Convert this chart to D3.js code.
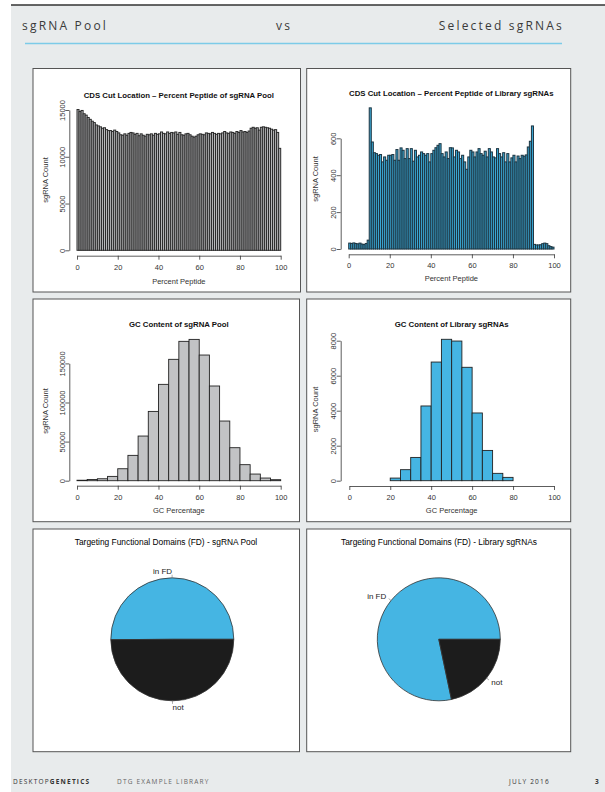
<!DOCTYPE html>
<html>
<head>
<meta charset="utf-8">
<script src="https://d3js.org/d3.v7.min.js"></script>
<style>
  body { margin: 0; background: #fff; }
</style>
</head>
<body>
<div id="page"></div>
<script>
// ---- data ----
const xTicks = [0, 20, 40, 60, 80, 100];

// CDS cut location, 1% bins (0..99)
const poolCutCounts = [
  15050, 14850, 14950, 14600, 14450, 14200, 14000, 13800, 13650, 13400,
  13300, 13200, 13050, 13100, 12900, 12800, 12800, 12700, 12850, 12700,
  12550, 12350, 12300, 12450, 12300, 12500, 12600, 12550, 12400, 12500,
  12250, 12450, 12300, 12200, 12400, 12350, 12450, 12300, 12500, 12400,
  12450, 12650, 12500, 12450, 12650, 12500, 12600, 12550, 12650, 12400,
  12600, 12350, 12300, 12450, 12500, 12350, 12200, 12100, 12200, 12350,
  12450, 12400, 12350, 12550, 12500, 12450, 12600, 12500, 12400, 12500,
  12450, 12550, 12700, 12550, 12500, 12650, 12600, 12500, 12700, 12600,
  12800, 12650, 12700, 12600, 12750, 13050, 13150, 13050, 13100, 12850,
  13150, 13200, 13150, 13100, 13050, 12950, 12850, 12900, 12600, 10900
];
const libCutCounts = [
  32, 30, 33, 30, 28, 32, 27, 24, 30, 48,
  765, 580, 522, 517, 508, 512, 472, 499, 481, 508,
  508, 512, 481, 539, 481, 548, 535, 490, 544, 490,
  544, 476, 535, 499, 508, 526, 517, 508, 517, 472,
  517, 535, 549, 562, 571, 517, 499, 526, 490, 549,
  548, 499, 535, 526, 490, 508, 472, 432, 499, 535,
  526, 499, 526, 544, 517, 508, 530, 499, 544, 526,
  499, 494, 544, 517, 499, 522, 472, 517, 472, 494,
  508, 472, 504, 490, 508, 503, 510, 553, 584, 667,
  25, 22, 22, 23, 29, 32, 29, 18, 13, 10
];
const cutTicksPool = [0, 5000, 10000, 15000];
const cutTicksLib = [0, 200, 400, 600];

// GC content, 5% bins
const poolGcStarts = [0, 5, 10, 15, 20, 25, 30, 35, 40, 45, 50, 55, 60, 65, 70, 75, 80, 85, 90, 95];
const poolGcCounts = [600, 1500, 2500, 5500, 15300, 32400, 57100, 88600, 123200, 155200,
                      178200, 180700, 160700, 121100, 76300, 42200, 20500, 8500, 3400, 1300];
const libGcStarts = [20, 25, 30, 35, 40, 45, 50, 55, 60, 65, 70, 75];
const libGcCounts = [150, 630, 1330, 4270, 6780, 8080, 7980, 6480, 3870, 1730, 420, 190];
const gcTicksPool = [0, 50000, 100000, 150000];
const gcTicksLib = [0, 2000, 4000, 6000, 8000];

// functional domain share
const fdLabels = ["in FD", "not"];
const poolFdShare = [0.501, 0.499];
const libFdShare = [0.783, 0.217];

// ---- page ----
const W = 605, H = 792;
const chartFont = "'Liberation Sans', Arial, sans-serif";
const pageFont = "'Open Sans', sans-serif";
const blue = "#45b5e3";

const svg = d3.select("#page").append("svg")
  .attr("width", W).attr("height", H);

svg.append("rect").attr("x", 11).attr("y", 5)
  .attr("width", W - 11).attr("height", H - 5).attr("fill", "#e8ebec");
svg.append("line").attr("x1", 11).attr("x2", W).attr("y1", 5).attr("y2", 5)
  .attr("stroke", "#333").attr("stroke-width", 1.5);

// header
const head = svg.append("g")
  .attr("font-family", pageFont).attr("font-size", 12)
  .attr("fill", "#3a3a3a").attr("letter-spacing", 2.2);
head.append("text").attr("x", 22).attr("y", 29.5).text("sgRNA Pool");
head.append("text").attr("x", 276).attr("y", 29.5).text("vs");
head.append("text").attr("x", 564).attr("y", 29.5).attr("text-anchor", "end").text("Selected sgRNAs");
svg.append("line").attr("x1", 25).attr("x2", 562).attr("y1", 43.5).attr("y2", 43.5)
  .attr("stroke", "#7ccbe8").attr("stroke-width", 1.5);

// panel frames
function frame(x0, y0, x1, y1) {
  svg.append("rect").attr("x", x0).attr("y", y0)
    .attr("width", x1 - x0).attr("height", y1 - y0)
    .attr("fill", "#fff").attr("stroke", "#555").attr("stroke-width", 1);
}

function styleAxis(a) {
  a.attr("font-family", chartFont).attr("font-size", 7.5);
  a.selectAll("path, line").attr("stroke", "#333").attr("stroke-width", 0.8);
  a.selectAll("text").attr("fill", "#333");
}

function histogram(p) {
  const g = svg.append("g");
  const x = d3.scaleLinear().domain([0, 100]).range(p.xr);
  const yTop = p.yTicks[p.yTicks.length - 1];
  const y = d3.scaleLinear().domain([0, yTop]).range(p.yr);

  g.selectAll("rect").data(p.counts).join("rect")
    .attr("x", (d, i) => x(p.starts[i]))
    .attr("width", (d, i) => x(p.starts[i] + p.step) - x(p.starts[i]))
    .attr("y", d => y(d))
    .attr("height", d => y(0) - y(d))
    .attr("fill", p.fill)
    .attr("stroke", p.stroke)
    .attr("stroke-width", p.sw);

  let xAxis = g.append("g")
    .attr("transform", `translate(0,${p.xAxisY})`)
    .call(d3.axisBottom(x).tickValues(xTicks).tickSize(4).tickSizeOuter(0).tickPadding(4.5));
  styleAxis(xAxis);

  let yAxis = g.append("g")
    .attr("transform", `translate(${p.yAxisX},0)`)
    .call(d3.axisLeft(y).tickValues(p.yTicks).tickSize(4).tickSizeOuter(0).tickFormat(d3.format("d")));
  styleAxis(yAxis);
  yAxis.selectAll(".tick text")
    .attr("x", 0)
    .attr("text-anchor", "middle")
    .attr("dy", "0.35em")
    .attr("transform", "translate(-7,0) rotate(-90)");

  const cx = (p.xr[0] + p.xr[1]) / 2;
  g.append("text").attr("x", cx).attr("y", p.titleY + 2.8)
    .attr("text-anchor", "middle").attr("font-family", chartFont)
    .attr("font-size", 7.8).attr("font-weight", "bold").attr("fill", "#111")
    .text(p.title);
  g.append("text").attr("x", cx).attr("y", p.xlabY + 2.6)
    .attr("text-anchor", "middle").attr("font-family", chartFont)
    .attr("font-size", 7.5).attr("fill", "#333")
    .text(p.xlab);
  g.append("text")
    .attr("transform", `translate(${p.ylabX},${p.ylabY}) rotate(-90)`)
    .attr("dy", "0.35em")
    .attr("text-anchor", "middle").attr("font-family", chartFont)
    .attr("font-size", 7.5).attr("fill", "#333")
    .text("sgRNA Count");
}

function piePanel(p) {
  const g = svg.append("g").attr("transform", `translate(${p.cx},${p.cy})`);
  // base-R pie: starts at 3 o'clock and runs counter-clockwise
  const pie = d3.pie().sort(null)
    .startAngle(Math.PI / 2).endAngle(Math.PI / 2 - 2 * Math.PI);
  const arcs = pie(p.shares);
  const arc = d3.arc().innerRadius(0).outerRadius(p.r);
  const colors = [blue, "#1c1c1c"];

  g.selectAll("path.slice").data(arcs).join("path")
    .attr("class", "slice")
    .attr("d", arc)
    .attr("fill", (d, i) => colors[i])
    .attr("stroke", "#333").attr("stroke-width", 0.8);

  arcs.forEach((d, i) => {
    const a = (d.startAngle + d.endAngle) / 2;
    const sx = Math.sin(a), sy = -Math.cos(a);
    g.append("line")
      .attr("x1", sx * p.r).attr("y1", sy * p.r)
      .attr("x2", sx * p.r * 1.05).attr("y2", sy * p.r * 1.05)
      .attr("stroke", "#777").attr("stroke-width", 0.6);
    g.append("text")
      .attr("x", sx * p.r * 1.1).attr("y", sy * p.r * 1.1)
      .attr("dy", "0.35em")
      .attr("text-anchor", sx < 0 ? "end" : "start")
      .attr("font-family", chartFont).attr("font-size", 8).attr("fill", "#222")
      .text(fdLabels[i]);
  });

  svg.append("text").attr("x", p.titleX).attr("y", p.titleY + 3)
    .attr("text-anchor", "middle").attr("font-family", chartFont)
    .attr("font-size", 8.4).attr("fill", "#000")
    .text(p.title);
}

frame(33, 68.5, 300.5, 292);
frame(306.7, 68.5, 570.7, 292);
frame(33, 299, 299.5, 521.7);
frame(306.7, 299, 570.7, 521.7);
frame(33, 529, 299.5, 751.7);
frame(306.7, 529, 570.7, 751.7);

histogram({
  counts: poolCutCounts, starts: d3.range(100), step: 1,
  xr: [77, 280.7], yr: [250.3, 110], yTicks: cutTicksPool,
  xAxisY: 255.7, yAxisX: 69.3,
  fill: "#b8b9bb", stroke: "#2a2a2a", sw: 1,
  title: "CDS Cut Location \u2013 Percent Peptide of sgRNA Pool", titleY: 95,
  xlab: "Percent Peptide", xlabY: 281, ylabX: 45, ylabY: 180
});
histogram({
  counts: libCutCounts, starts: d3.range(100), step: 1,
  xr: [348.7, 554], yr: [249, 138.3], yTicks: cutTicksLib,
  xAxisY: 254.3, yAxisX: 340.7,
  fill: "#3aa6d2", stroke: "#1d3440", sw: 1,
  title: "CDS Cut Location \u2013 Percent Peptide of Library sgRNAs", titleY: 93.3,
  xlab: "Percent Peptide", xlabY: 278.3, ylabX: 315.7, ylabY: 179
});
histogram({
  counts: poolGcCounts, starts: poolGcStarts, step: 5,
  xr: [77, 280.7], yr: [480.7, 363.4], yTicks: gcTicksPool,
  xAxisY: 485.7, yAxisX: 69.3,
  fill: "#c2c3c5", stroke: "#222", sw: 0.9,
  title: "GC Content of sgRNA Pool", titleY: 324.3,
  xlab: "GC Percentage", xlabY: 510, ylabX: 45, ylabY: 411
});
histogram({
  counts: libGcCounts, starts: libGcStarts, step: 5,
  xr: [349.3, 554], yr: [480.7, 340.7], yTicks: gcTicksLib,
  xAxisY: 486, yAxisX: 340.7,
  fill: blue, stroke: "#222", sw: 0.9,
  title: "GC Content of Library sgRNAs", titleY: 324,
  xlab: "GC Percentage", xlabY: 510, ylabX: 315.7, ylabY: 409.5
});

piePanel({
  shares: poolFdShare, cx: 172.3, cy: 639.3, r: 61.5,
  title: "Targeting Functional Domains (FD) - sgRNA Pool", titleX: 166, titleY: 541.7
});
piePanel({
  shares: libFdShare, cx: 438.8, cy: 639.3, r: 61.5,
  title: "Targeting Functional Domains (FD) - Library sgRNAs", titleX: 439, titleY: 541.7
});

// footer
const foot = svg.append("g")
  .attr("font-family", pageFont).attr("font-size", 6.5)
  .attr("letter-spacing", 1.2).attr("fill", "#333");
const brand = foot.append("text").attr("x", 13).attr("y", 784);
brand.append("tspan").text("DESKTOP");
brand.append("tspan").attr("font-weight", "bold").text("GENETICS");
foot.append("text").attr("x", 117).attr("y", 784).attr("fill", "#666").text("DTG EXAMPLE LIBRARY");
foot.append("text").attr("x", 509).attr("y", 784).text("JULY 2016");
foot.append("text").attr("x", 595).attr("y", 784).attr("font-weight", "bold").text("3");
</script>
</body>
</html>
